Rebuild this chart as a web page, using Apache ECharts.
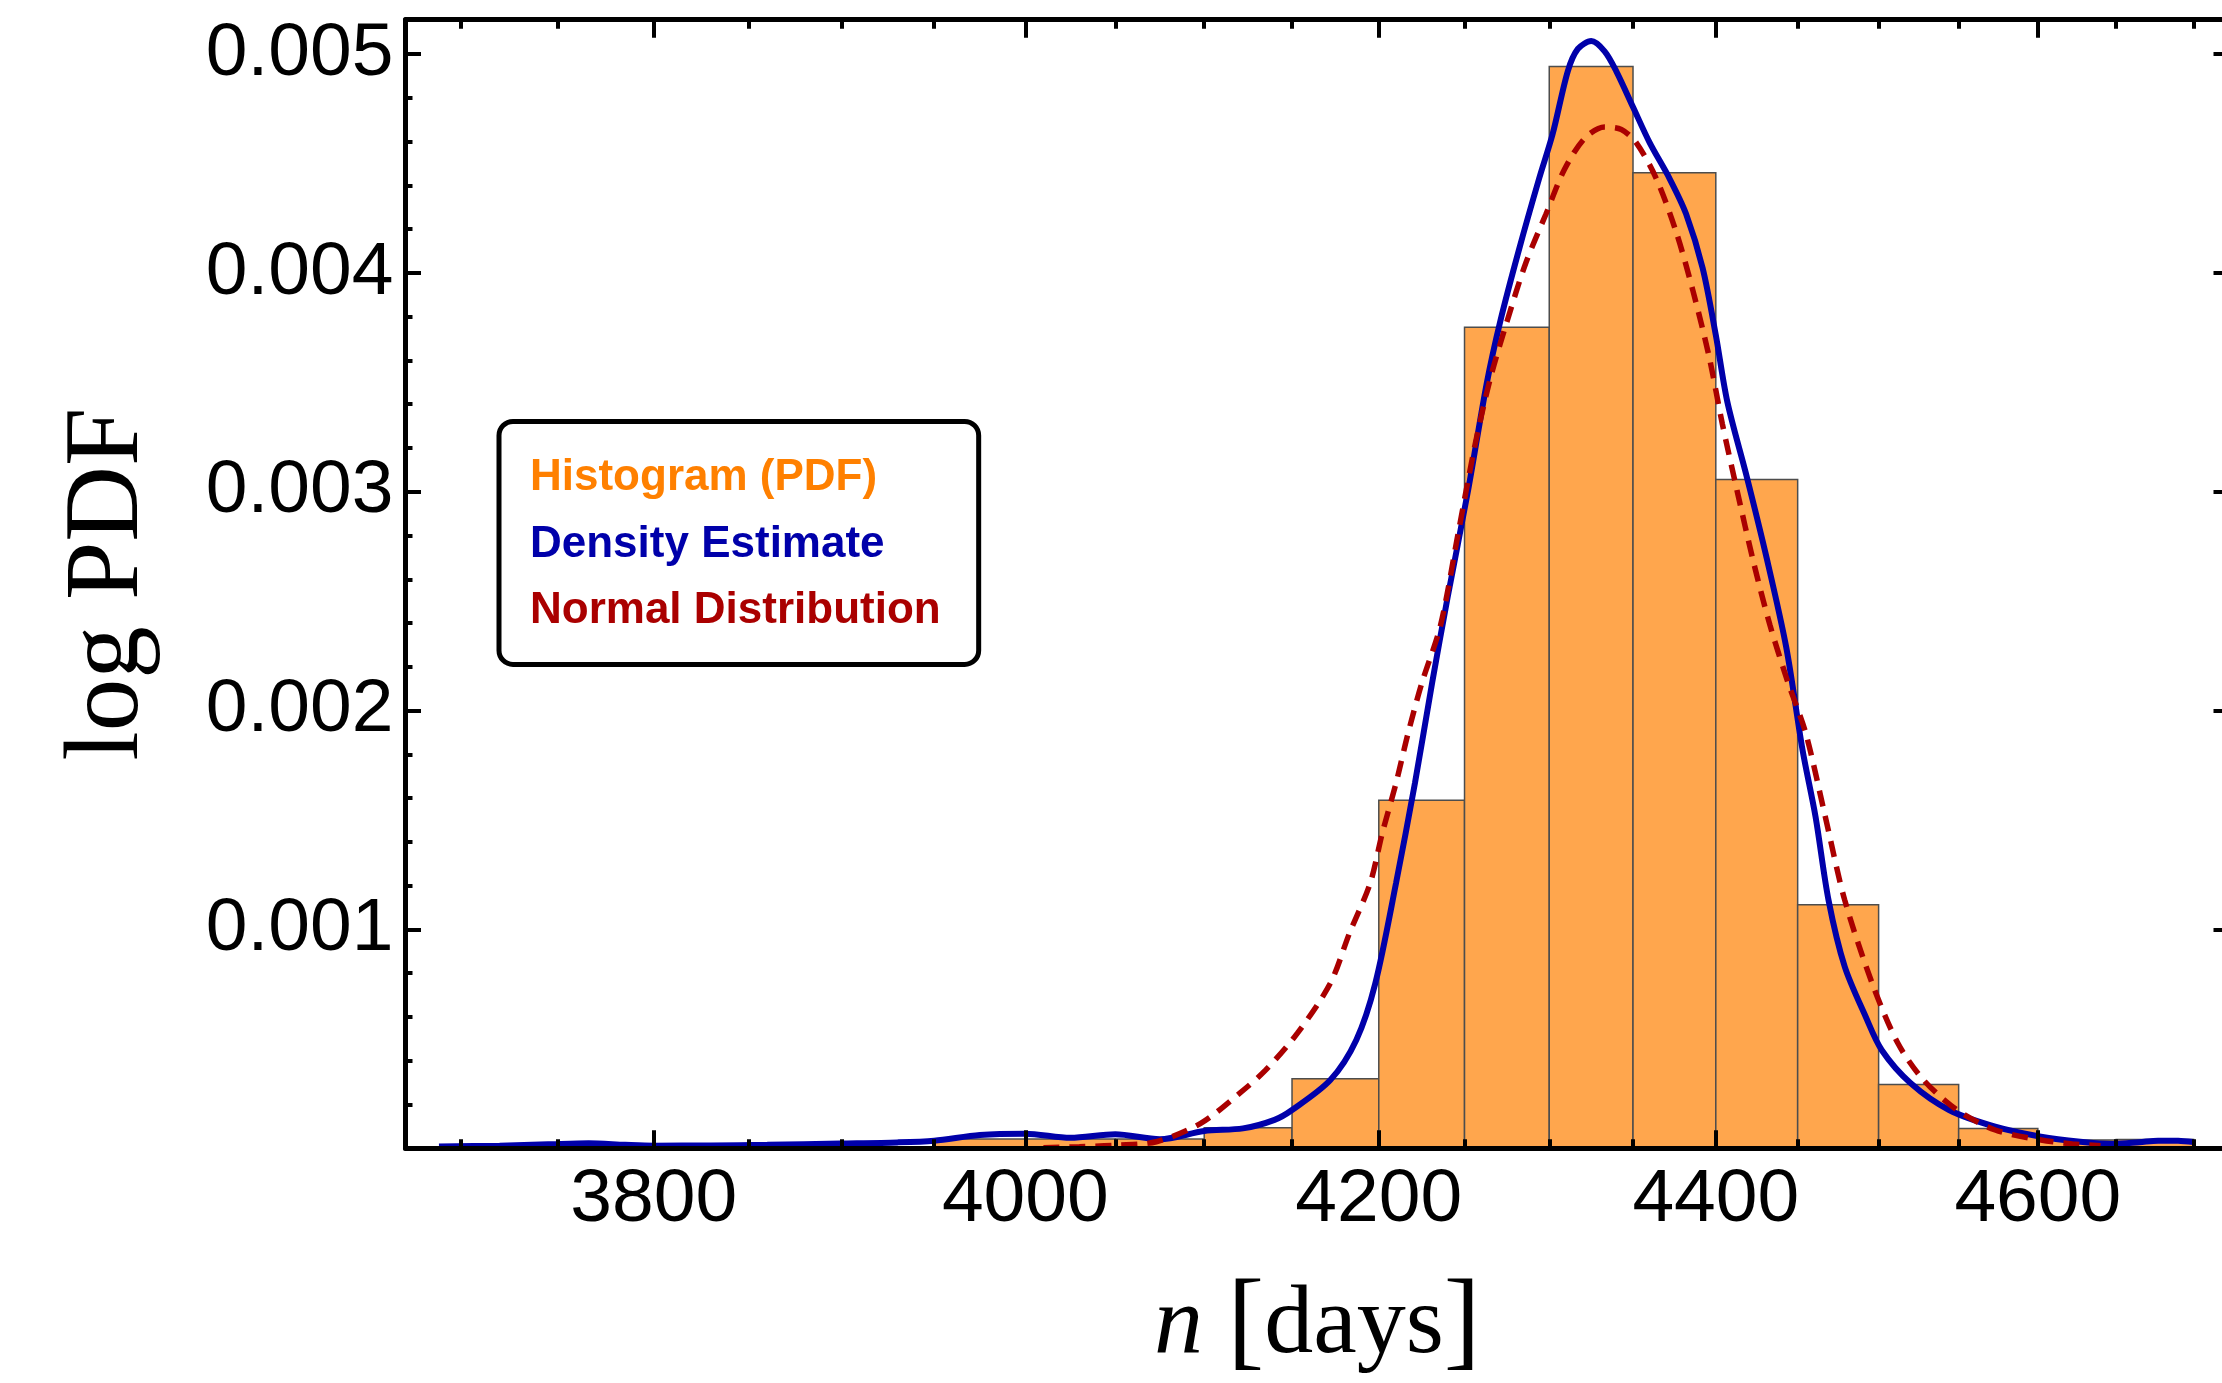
<!DOCTYPE html>
<html>
<head>
<meta charset="utf-8">
<script src="https://cdn.jsdelivr.net/npm/echarts/dist/echarts.min.js"></script>
<style>
html,body{margin:0;padding:0;background:#fff;}
#chart{width:2222px;height:1383px;}
</style>
</head>
<body>
<div id="chart"></div>
<script>
// ---------- data ----------
const xRange = [3672, 4723];
const yRange = [0, 0.0051567];
const xMajorTicks = [3800, 4000, 4200, 4400, 4600];
const xMinorTicks = [3700, 3750, 3850, 3900, 3950, 4050, 4100, 4150, 4250, 4300, 4350, 4450, 4500, 4550, 4650, 4700];
const yTicks = [0.001, 0.002, 0.003, 0.004, 0.005];
const seriesNames = ['Histogram (PDF)', 'Density Estimate', 'Normal Distribution'];

const binEdges = [3950, 4000, 4050, 4100, 4150, 4200, 4250, 4300, 4350, 4400, 4450, 4500, 4550, 4600, 4650, 4700];
const histValues = [0.000043, 0.000043, 0.000043, 0.000094, 0.000318, 0.00159, 0.003752, 0.004943, 0.004457, 0.003056, 0.001113, 0.000292, 0.00009, 0.000038, 0.00004];

const kdeX = [3689, 3720, 3745, 3766, 3785, 3800, 3830, 3860, 3899, 3930, 3950, 3975, 4000, 4025, 4050, 4075, 4100, 4122, 4140, 4150, 4172, 4187, 4198, 4210, 4221, 4231, 4240, 4252, 4263, 4271, 4282, 4294, 4302, 4311, 4317, 4325, 4333, 4340, 4350, 4360, 4372, 4382, 4392, 4400, 4407, 4419, 4431, 4443, 4453, 4461, 4469, 4479, 4492, 4502, 4520, 4544, 4573, 4602, 4627, 4648, 4665, 4677, 4690, 4700];
const kdeY = [0.000008, 0.000012, 0.000018, 0.000023, 0.000016, 0.000012, 0.000013, 0.000016, 0.000022, 0.000027, 0.000035, 0.000061, 0.000067, 0.000048, 0.000064, 0.000041, 0.000079, 0.000091, 0.00013, 0.000175, 0.000312, 0.000495, 0.000754, 0.001211, 0.001668, 0.002125, 0.002513, 0.003002, 0.003493, 0.003778, 0.004104, 0.004431, 0.004634, 0.004921, 0.005023, 0.005059, 0.005012, 0.004921, 0.004758, 0.004595, 0.004431, 0.004269, 0.004022, 0.003716, 0.003411, 0.003064, 0.002697, 0.002289, 0.00182, 0.001515, 0.001134, 0.00083, 0.000601, 0.000448, 0.000297, 0.000175, 0.0000987, 0.000053, 0.00003, 0.00002, 0.000028, 0.000035, 0.000034, 0.000029];

const normX = [4010, 4030, 4050, 4073, 4098, 4120, 4135, 4153, 4172, 4183, 4195, 4202, 4210, 4217, 4225, 4236, 4246, 4256, 4265, 4275, 4286, 4298, 4309, 4321, 4333, 4343, 4352, 4364, 4376, 4386, 4396, 4404, 4413, 4423, 4433, 4444, 4455, 4467, 4479, 4496, 4512, 4528, 4549, 4573, 4602, 4622, 4640];
const normY = [0.000003, 0.000007, 0.000014, 0.00003, 0.000114, 0.000251, 0.000358, 0.000525, 0.000754, 0.000982, 0.001211, 0.001439, 0.001668, 0.001896, 0.002125, 0.002391, 0.002799, 0.003207, 0.003513, 0.003778, 0.004043, 0.004268, 0.004472, 0.004614, 0.004666, 0.004655, 0.004594, 0.004431, 0.004187, 0.003922, 0.003615, 0.003309, 0.003003, 0.002677, 0.002391, 0.00213, 0.001896, 0.001515, 0.001134, 0.000754, 0.00048, 0.000312, 0.000175, 0.0000836, 0.000038, 0.00002, 0.000012];

// ---------- build ----------
const L = Math.log;
const histData = histValues.map((v, i) => [L(binEdges[i]), L(binEdges[i + 1]), v]);
const kdeData = kdeX.map((x, i) => [L(x), kdeY[i]]);
const normData = normX.map((x, i) => [L(x), normY[i]]);

const axisLineStyle = { color: '#000', width: 5 };
const tickStyle = { color: '#000', width: 4 };
const xMinL = L(xRange[0]), xMaxL = L(xRange[1]);

function xAxisDef(position, major, showLabel) {
  const vals = (major ? xMajorTicks : xMinorTicks).map(L);
  const a = {
    type: 'value', position: position, min: xMinL, max: xMaxL, z: 5,
    axisLine: { show: major, onZero: false, lineStyle: axisLineStyle },
    axisTick: { show: true, inside: true, length: major ? 18 : 9, customValues: vals, lineStyle: tickStyle },
    axisLabel: showLabel ? {
      show: true, customValues: vals,
      formatter: v => String(Math.round(Math.exp(v))),
      margin: 15, color: '#000', fontSize: 75, fontFamily: 'Liberation Sans'
    } : { show: false },
    splitLine: { show: false }
  };
  if (showLabel) {
    a.name = '{n|n} {b|[}{t|days}{b|]}';
    a.nameLocation = 'middle';
    a.nameGap = 122;
    a.nameTextStyle = {
      color: '#000', fontFamily: 'Liberation Serif', fontSize: 98, lineHeight: 112,
      rich: {
        n: { fontFamily: 'Liberation Serif', fontStyle: 'italic', fontSize: 98, lineHeight: 112, color: '#000' },
        b: { fontFamily: 'Liberation Serif', fontSize: 110, lineHeight: 112, color: '#000' },
        t: { fontFamily: 'Liberation Serif', fontSize: 98, lineHeight: 112, color: '#000' }
      }
    };
  }
  return a;
}

function yAxisDef(position, showLabel) {
  const a = {
    type: 'value', position: position, min: yRange[0], max: yRange[1], interval: 0.001, z: 5,
    axisLine: { show: true, onZero: false, lineStyle: axisLineStyle },
    axisTick: { show: true, inside: true, length: 15.5, customValues: yTicks, lineStyle: tickStyle },
    minorTick: { show: true, splitNumber: 5, length: 7, lineStyle: tickStyle },
    axisLabel: showLabel ? {
      show: true, customValues: yTicks, formatter: v => v.toFixed(3),
      margin: 12, color: '#000', fontSize: 75, fontFamily: 'Liberation Sans'
    } : { show: false },
    splitLine: { show: false },
    minorSplitLine: { show: false }
  };
  if (showLabel) {
    a.name = 'log PDF';
    a.nameLocation = 'middle';
    a.nameGap = 244;
    a.nameTextStyle = { fontFamily: 'Liberation Serif', fontSize: 105, lineHeight: 105, color: '#000' };
  }
  return a;
}

const chart = echarts.init(document.getElementById('chart'), null, { renderer: 'canvas', width: 2222, height: 1383 });
chart.setOption({
  animation: false,
  backgroundColor: '#fff',
  grid: { left: 405.5, right: -7, top: 19.7, bottom: 234.7, containLabel: false, outerBoundsMode: 'none' },
  legend: {
    show: true, orient: 'vertical', left: 499, top: 421.5,
    padding: [34.7, 38, 31.2, 26],
    itemWidth: 0, itemHeight: 44, itemGap: 22.5, icon: 'none',
    borderColor: '#000', borderWidth: 5, borderRadius: 14, backgroundColor: '#fff',
    selectedMode: false,
    textStyle: { fontFamily: 'Liberation Sans', fontWeight: 'bold', fontSize: 44, lineHeight: 44 },
    data: [
      { name: seriesNames[0], textStyle: { color: '#FF8000' } },
      { name: seriesNames[1], textStyle: { color: '#0000AA' } },
      { name: seriesNames[2], textStyle: { color: '#AA0000' } }
    ]
  },
  xAxis: [
    xAxisDef('bottom', true, true),
    xAxisDef('bottom', false, false),
    xAxisDef('top', true, false),
    xAxisDef('top', false, false)
  ],
  yAxis: [
    yAxisDef('left', true),
    yAxisDef('right', false)
  ],
  series: [
    {
      name: seriesNames[0], type: 'custom', xAxisIndex: 0, yAxisIndex: 0, z: 2,
      encode: { x: [0, 1], y: 2 },
      itemStyle: { color: '#FFA64D' },
      data: histData,
      renderItem: function (params, api) {
        const p0 = api.coord([api.value(0), api.value(2)]);
        const p1 = api.coord([api.value(1), 0]);
        return {
          type: 'rect',
          shape: { x: p0[0], y: p0[1], width: p1[0] - p0[0], height: p1[1] - p0[1] },
          style: { fill: '#FFA64D', stroke: '#4d4d4d', lineWidth: 1.5 }
        };
      }
    },
    {
      name: seriesNames[1], type: 'line', xAxisIndex: 0, yAxisIndex: 0, z: 3,
      data: kdeData, smooth: 0.3, symbol: 'none', showSymbol: false,
      itemStyle: { color: '#0000AA' },
      lineStyle: { color: '#0000AA', width: 6 }
    },
    {
      name: seriesNames[2], type: 'line', xAxisIndex: 0, yAxisIndex: 0, z: 4,
      data: normData, smooth: 0.3, symbol: 'none', showSymbol: false,
      itemStyle: { color: '#AA0000' },
      lineStyle: { color: '#AA0000', width: 5.5, type: [16, 10] }
    }
  ]
});
</script>
</body>
</html>
